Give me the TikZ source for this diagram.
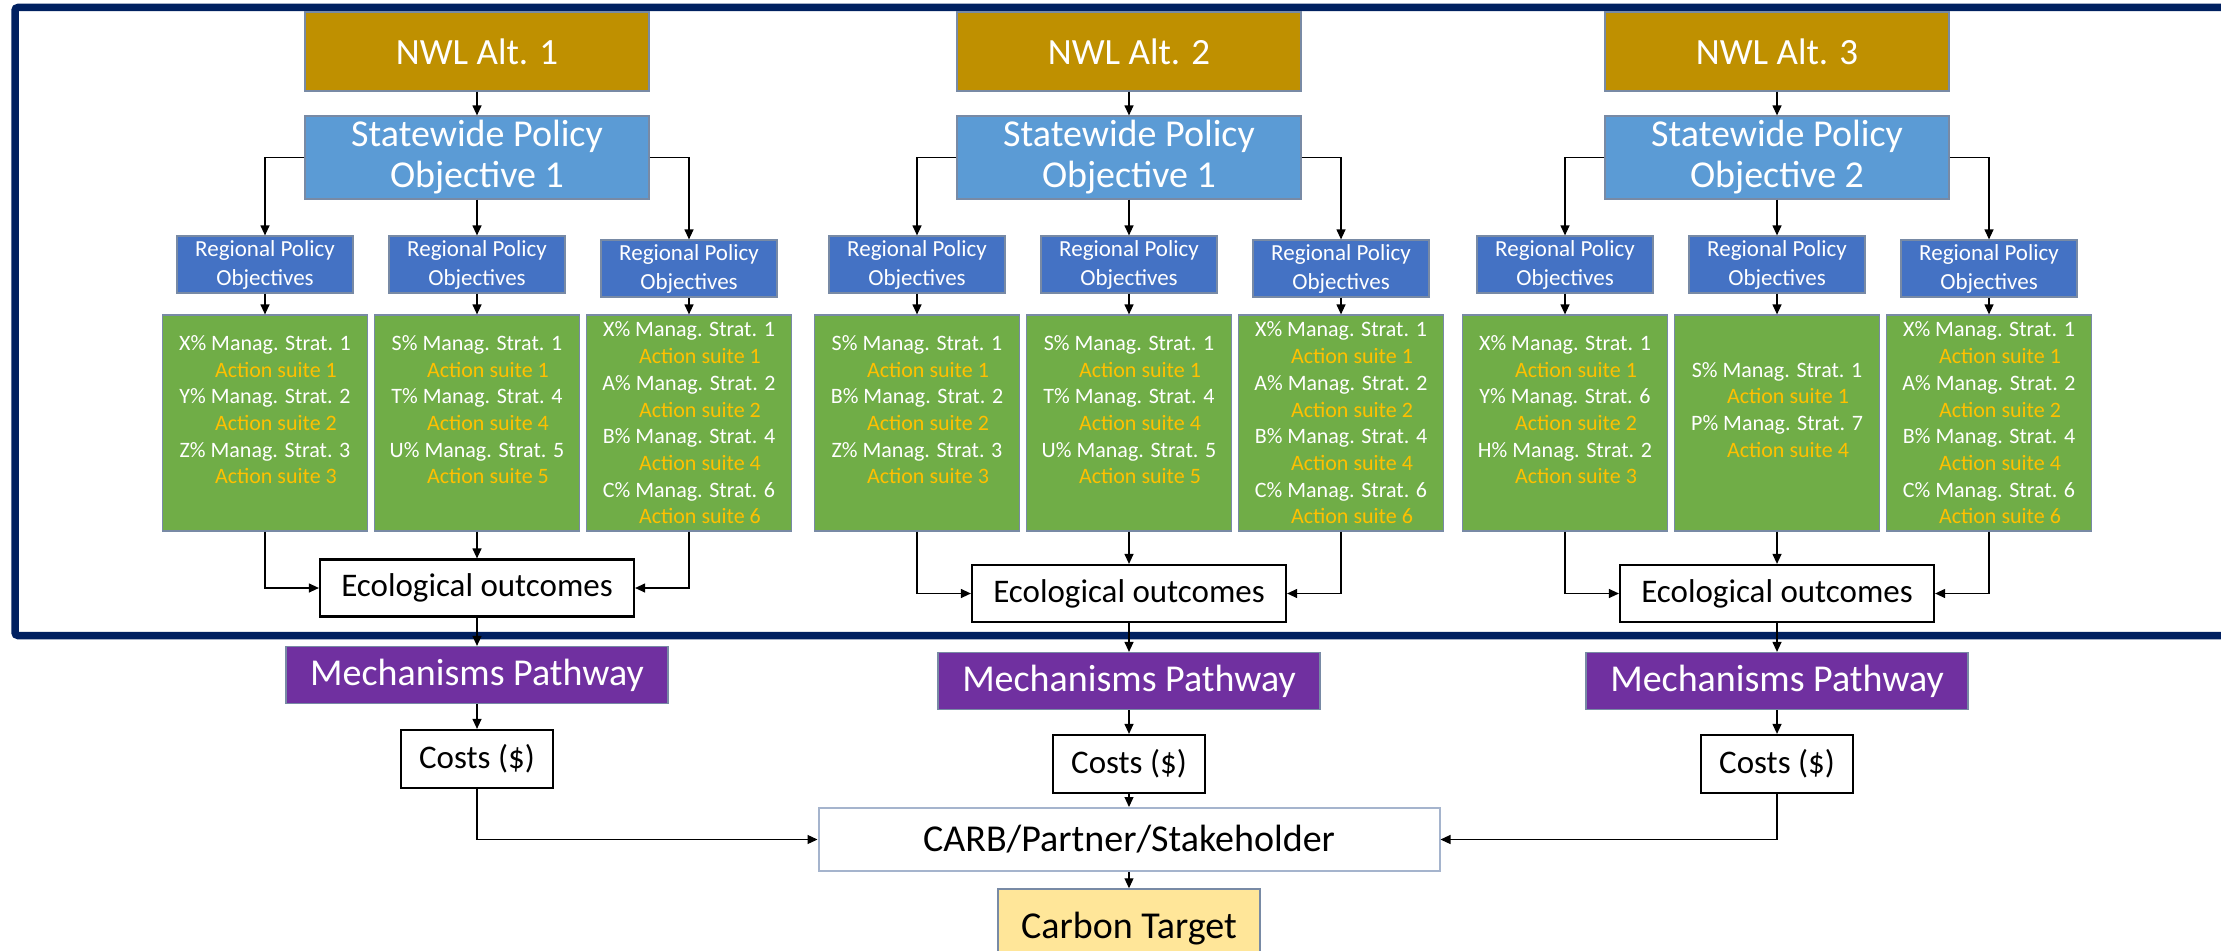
\documentclass[tikz,border=0pt]{standalone}
\usepackage{fontspec}
\setmainfont{Carlito}
\usetikzlibrary{arrows.meta}
\definecolor{framenavy}{RGB}{0,32,96}
\definecolor{nwlgold}{RGB}{191,144,0}
\definecolor{swblue}{RGB}{91,155,213}
\definecolor{rgblue}{RGB}{68,114,196}
\definecolor{stgreen}{RGB}{112,173,71}
\definecolor{actgold}{RGB}{255,192,0}
\definecolor{mechpurple}{RGB}{112,48,160}
\definecolor{tgtyellow}{RGB}{255,230,153}
\definecolor{edgegray}{RGB}{120,138,165}
\definecolor{carbedge}{RGB}{165,180,205}
% one strategy line and its action suite
\newcommand{\ms}[3]{#1\% Manag. Strat. #2\\\textcolor{actgold}{\hspace*{22pt}Action suite #3}}

\begin{document}
\begin{tikzpicture}[x=1pt,y=-1pt,
    box/.style={draw=edgegray,line width=1.2,inner sep=0,align=center,text=white},
    nwl/.style={box,fill=nwlgold,minimum width=344,minimum height=79,font=\fontsize{37}{44}\selectfont},
    statewide/.style={box,fill=swblue,minimum width=344,minimum height=83,font=\fontsize{38}{41}\selectfont},
    regional/.style={box,fill=rgblue,minimum width=176,minimum height=57,font=\fontsize{23}{29}\selectfont},
    strategy/.style={box,fill=stgreen,minimum width=205,minimum height=216,font=\fontsize{22}{26.7}\selectfont},
    outcome/.style={draw=black,line width=2.2,fill=white,inner sep=0,minimum width=314,minimum height=57,font=\fontsize{33}{40}\selectfont},
    mech/.style={box,fill=mechpurple,minimum width=382,minimum height=57,font=\fontsize{38}{44}\selectfont},
    cost/.style={outcome,minimum width=152,minimum height=58},
    arr/.style={-{Triangle[length=10pt,width=9pt]},line width=1.2}]
  \useasboundingbox (0,0) rectangle (2221,950);
  % frame round the three alternatives
  \draw[framenavy,line width=7.5,rounded corners=3] (2240,7.5) -- (15,7.5) -- (15,635.5) -- (2240,635.5);

  % alternative 1
  \node[nwl] (nwl1) at (477,51.5) {NWL Alt. 1};
  \node[statewide] (sw1) at (477,157.5) {Statewide Policy\\Objective 1};
  \node[regional] (rga1) at (265,264.5) {Regional Policy\\Objectives};
  \node[regional] (rgb1) at (477,264.5) {Regional Policy\\Objectives};
  \node[regional] (rgc1) at (689,268.5) {Regional Policy\\Objectives};
  \node[strategy] (sta1) at (265,423) {\ms{X}{1}{1}\\\ms{Y}{2}{2}\\\ms{Z}{3}{3}\\\mbox{}};
  \node[strategy] (stb1) at (477,423) {\ms{S}{1}{1}\\\ms{T}{4}{4}\\\ms{U}{5}{5}\\\mbox{}};
  \node[strategy] (stc1) at (689,423) {\ms{X}{1}{1}\\\ms{A}{2}{2}\\\ms{B}{4}{4}\\\ms{C}{6}{6}};
  \node[outcome] (eco1) at (477,588) {Ecological outcomes};
  \node[mech] (mp1) at (477,675) {Mechanisms Pathway};
  \node[cost] (cost1) at (477,759) {Costs (\$)};

  % alternative 2
  \node[nwl] (nwl2) at (1129,51.5) {NWL Alt. 2};
  \node[statewide] (sw2) at (1129,157.5) {Statewide Policy\\Objective 1};
  \node[regional] (rga2) at (917,264.5) {Regional Policy\\Objectives};
  \node[regional] (rgb2) at (1129,264.5) {Regional Policy\\Objectives};
  \node[regional] (rgc2) at (1341,268.5) {Regional Policy\\Objectives};
  \node[strategy] (sta2) at (917,423) {\ms{S}{1}{1}\\\ms{B}{2}{2}\\\ms{Z}{3}{3}\\\mbox{}};
  \node[strategy] (stb2) at (1129,423) {\ms{S}{1}{1}\\\ms{T}{4}{4}\\\ms{U}{5}{5}\\\mbox{}};
  \node[strategy] (stc2) at (1341,423) {\ms{X}{1}{1}\\\ms{A}{2}{2}\\\ms{B}{4}{4}\\\ms{C}{6}{6}};
  \node[outcome] (eco2) at (1129,593.5) {Ecological outcomes};
  \node[mech] (mp2) at (1129,681) {Mechanisms Pathway};
  \node[cost] (cost2) at (1129,764) {Costs (\$)};

  % alternative 3
  \node[nwl] (nwl3) at (1777,51.5) {NWL Alt. 3};
  \node[statewide] (sw3) at (1777,157.5) {Statewide Policy\\Objective 2};
  \node[regional] (rga3) at (1565,264.5) {Regional Policy\\Objectives};
  \node[regional] (rgb3) at (1777,264.5) {Regional Policy\\Objectives};
  \node[regional] (rgc3) at (1989,268.5) {Regional Policy\\Objectives};
  \node[strategy] (sta3) at (1565,423) {\ms{X}{1}{1}\\\ms{Y}{6}{2}\\\ms{H}{2}{3}\\\mbox{}};
  \node[strategy] (stb3) at (1777,423) {\ms{S}{1}{1}\\\ms{P}{7}{4}\\\mbox{}};
  \node[strategy] (stc3) at (1989,423) {\ms{X}{1}{1}\\\ms{A}{2}{2}\\\ms{B}{4}{4}\\\ms{C}{6}{6}};
  \node[outcome] (eco3) at (1777,593.5) {Ecological outcomes};
  \node[mech] (mp3) at (1777,681) {Mechanisms Pathway};
  \node[cost] (cost3) at (1777,764) {Costs (\$)};

  % common end
  \node[draw=carbedge,line width=2,fill=white,inner sep=0,minimum width=621,minimum height=63,font=\fontsize{38}{44}\selectfont] (carb) at (1129,839.5) {CARB/Partner/Stakeholder};
  \node[draw=edgegray,line width=1.5,fill=tgtyellow,inner sep=0,minimum width=262,minimum height=80,font=\fontsize{38}{44}\selectfont] (tgt) at (1129,929) {Carbon Target};

  \foreach \g in {1,2,3}{
    \draw[arr] (nwl\g) -- (sw\g);
    \draw[arr] (sw\g.west) -| (rga\g.north);
    \draw[arr] (sw\g) -- (rgb\g);
    \draw[arr] (sw\g.east) -| (rgc\g.north);
    \draw[arr] (rga\g) -- (sta\g);
    \draw[arr] (rgb\g) -- (stb\g);
    \draw[arr] (rgc\g) -- (stc\g);
    \draw[arr] (sta\g.south) |- (eco\g.west);
    \draw[arr] (stb\g) -- (eco\g);
    \draw[arr] (stc\g.south) |- (eco\g.east);
    \draw[arr] (eco\g) -- (mp\g);
    \draw[arr] (mp\g) -- (cost\g);
  }
  \draw[arr] (cost1.south) |- (carb.west);
  \draw[arr] (cost2) -- (carb);
  \draw[arr] (cost3.south) |- (carb.east);
  \draw[arr] (carb) -- (tgt);
\end{tikzpicture}
\end{document}
